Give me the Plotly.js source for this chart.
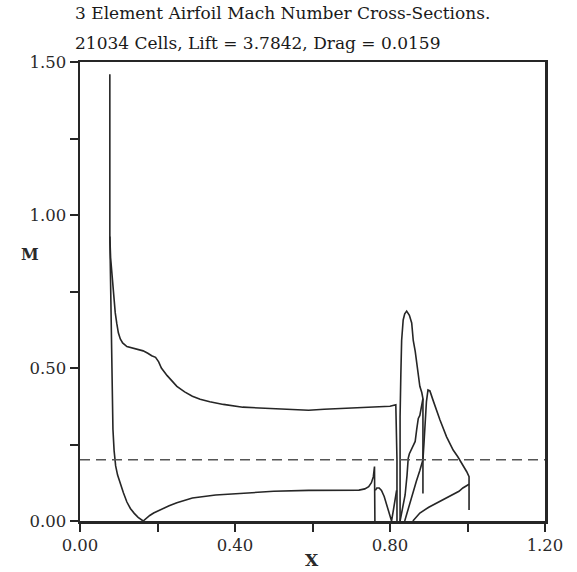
<!DOCTYPE html>
<html>
<head>
<meta charset="utf-8">
<script src="https://cdn.plot.ly/plotly-3.0.1.min.js"></script>
<style>html,body{margin:0;padding:0;background:#fff;}#chart{width:577px;height:572px;}</style>
</head>
<body>
<div id="chart"></div>
<script>
// Main element, upper surface (leading-edge spike to trailing edge)
const mainUpperX = [0.077, 0.077, 0.079, 0.082, 0.085, 0.088, 0.091, 0.095, 0.099, 0.104, 0.110, 0.121, 0.135, 0.150, 0.163, 0.175, 0.185, 0.195, 0.203, 0.210, 0.225, 0.250, 0.270, 0.290, 0.310, 0.335, 0.370, 0.420, 0.480, 0.540, 0.590, 0.630, 0.680, 0.730, 0.770, 0.800, 0.815, 0.818, 0.818];
const mainUpperY = [1.46, 0.93, 0.86, 0.81, 0.77, 0.72, 0.68, 0.645, 0.615, 0.595, 0.582, 0.570, 0.565, 0.562, 0.556, 0.548, 0.540, 0.535, 0.520, 0.500, 0.475, 0.440, 0.422, 0.408, 0.398, 0.390, 0.381, 0.372, 0.368, 0.366, 0.362, 0.365, 0.368, 0.370, 0.372, 0.375, 0.380, 0.20, 0.0];
// Main element, lower surface
const mainLowerX = [0.077, 0.079, 0.081, 0.083, 0.085, 0.088, 0.092, 0.097, 0.103, 0.112, 0.121, 0.130, 0.140, 0.150, 0.163, 0.170, 0.180, 0.190, 0.206, 0.230, 0.250, 0.290, 0.350, 0.410, 0.500, 0.590, 0.650, 0.700, 0.720, 0.735, 0.745, 0.752, 0.757, 0.760, 0.761];
const mainLowerY = [0.93, 0.75, 0.55, 0.40, 0.30, 0.23, 0.18, 0.15, 0.125, 0.092, 0.062, 0.041, 0.025, 0.012, 0.0, 0.008, 0.018, 0.026, 0.036, 0.050, 0.060, 0.075, 0.085, 0.090, 0.097, 0.100, 0.100, 0.100, 0.101, 0.105, 0.112, 0.125, 0.145, 0.178, 0.0];
// Small hump behind the main element
const humpX = [0.762, 0.766, 0.772, 0.778, 0.785, 0.790, 0.795, 0.800, 0.804, 0.810, 0.817];
const humpY = [0.100, 0.108, 0.108, 0.100, 0.080, 0.058, 0.032, 0.010, 0.0, 0.045, 0.100];
// Vane element
const vaneUpperX = [0.826, 0.826, 0.826, 0.828, 0.830, 0.834, 0.838, 0.843, 0.850, 0.856, 0.860, 0.865, 0.870, 0.873, 0.877, 0.882, 0.885, 0.885];
const vaneUpperY = [0.0, 0.20, 0.34, 0.48, 0.59, 0.657, 0.677, 0.686, 0.672, 0.647, 0.590, 0.555, 0.500, 0.470, 0.440, 0.420, 0.400, 0.090];
const vaneLowerX = [0.826, 0.832, 0.839, 0.844, 0.847, 0.850, 0.858, 0.865, 0.869, 0.873, 0.877, 0.881, 0.885];
const vaneLowerY = [0.0, 0.040, 0.085, 0.150, 0.205, 0.220, 0.240, 0.260, 0.300, 0.335, 0.345, 0.375, 0.400];
// Flap element
const flapUpperX = [0.838, 0.848, 0.858, 0.868, 0.877, 0.885, 0.888, 0.891, 0.894, 0.898, 0.903, 0.911, 0.920, 0.929, 0.946, 0.963, 0.975, 0.985, 0.998, 1.004, 1.004];
const flapUpperY = [0.0, 0.045, 0.090, 0.130, 0.165, 0.200, 0.260, 0.330, 0.390, 0.428, 0.425, 0.395, 0.360, 0.330, 0.275, 0.232, 0.210, 0.190, 0.161, 0.145, 0.036];
const flapLowerX = [0.859, 0.865, 0.877, 0.900, 0.921, 0.940, 0.963, 0.978, 0.988, 0.998, 1.004];
const flapLowerY = [0.0, 0.010, 0.026, 0.045, 0.059, 0.070, 0.085, 0.097, 0.108, 0.115, 0.120];
// Freestream Mach reference
const freeX = [0.0, 1.2];
const freeY = [0.2, 0.2];

const xTickVals = [0, 0.2, 0.4, 0.6, 0.8, 1.0, 1.2];
const xTickText = ["0.00", "", "0.40", "", "0.80", "", "1.20"];
const yTickVals = [0, 0.25, 0.5, 0.75, 1.0, 1.25, 1.5];
const yTickText = ["0.00", "", "0.50", "", "1.00", "", "1.50"];

const titleLine1 = "3 Element Airfoil Mach Number Cross-Sections.";
const titleLine2 = "21034 Cells, Lift = 3.7842, Drag = 0.0159";

const ink = "#262626";
const serif = "DejaVu Serif, Liberation Serif, serif";
const lineStyle = {color: ink, width: 1.6};

function tr(x, y) { return {x: x, y: y, type: "scatter", mode: "lines", line: lineStyle, hoverinfo: "skip"}; }

const data = [
  tr(mainUpperX, mainUpperY),
  tr(mainLowerX, mainLowerY),
  tr(humpX, humpY),
  tr(vaneUpperX, vaneUpperY),
  tr(vaneLowerX, vaneLowerY),
  tr(flapUpperX, flapUpperY),
  tr(flapLowerX, flapLowerY),
  {x: freeX, y: freeY, type: "scatter", mode: "lines", line: {color: "#555", width: 1.4, dash: "10px,6px"}, hoverinfo: "skip"}
];

const axisCommon = {
  showgrid: false, zeroline: false, showline: true, mirror: true,
  linecolor: ink, linewidth: 2.5, ticks: "outside", ticklen: 8, tickwidth: 2, tickcolor: ink,
  tickfont: {family: serif, size: 16.5, color: "#2a2a2a"}
};

const layout = {
  width: 577, height: 572,
  margin: {l: 80, r: 32, t: 62, b: 51},
  paper_bgcolor: "#fff", plot_bgcolor: "#fff",
  showlegend: false,
  xaxis: Object.assign({}, axisCommon, {range: [0, 1.2], tickmode: "array", tickvals: xTickVals, ticktext: xTickText}),
  yaxis: Object.assign({}, axisCommon, {range: [0, 1.5], tickmode: "array", tickvals: yTickVals, ticktext: yTickText}),
  annotations: [
    {text: titleLine1, xref: "paper", yref: "paper", x: -0.015, y: 1.107, xanchor: "left", yanchor: "middle", showarrow: false, font: {family: serif, size: 17, color: "#1a1a1a"}},
    {text: titleLine2, xref: "paper", yref: "paper", x: -0.015, y: 1.041, xanchor: "left", yanchor: "middle", showarrow: false, font: {family: serif, size: 17, color: "#1a1a1a"}},
    {text: "<b>X</b>", xref: "paper", yref: "paper", x: 0.499, y: -0.085, xanchor: "center", yanchor: "middle", showarrow: false, font: {family: serif, size: 17, color: "#2a2a2a"}},
    {text: "<b>M</b>", xref: "paper", yref: "paper", x: -0.108, y: 0.58, xanchor: "center", yanchor: "middle", showarrow: false, font: {family: serif, size: 16, color: "#2a2a2a"}}
  ]
};

Plotly.newPlot("chart", data, layout, {staticPlot: true, displayModeBar: false});
</script>
</body>
</html>
